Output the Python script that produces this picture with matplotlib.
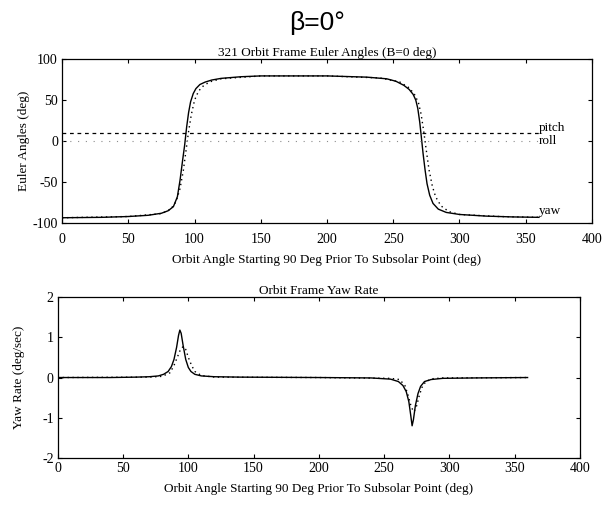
import matplotlib.pyplot as plt
import numpy as np

# orbit angle samples (deg) and values
yaw_x = [0, 30, 50, 65, 75, 80, 84, 87, 89, 91, 92.5, 94, 95.5, 97, 99, 101, 104, 108, 113, 120,
         135, 150, 200, 230, 245, 252, 258, 262, 265, 267, 268.5, 270, 271, 272.5, 274, 275.5,
         277.5, 280, 284, 290, 300, 320, 340, 360]
yaw_y = [-93.5, -93, -92, -90.5, -88, -85, -80, -68, -48, -23, -5, 17, 35, 48, 58, 64, 69, 72, 74.5, 76.5,
         78.5, 79.5, 79.5, 78, 76, 73, 68, 63, 57, 50, 40, 23, 8, -15, -35, -52,
         -66, -76, -83, -87, -89.5, -91.5, -92.5, -93]

yaw2_x = [0, 50, 75, 82, 86, 89, 91.5, 93.5, 95.5, 97.5, 100, 103, 107, 112, 120, 150, 200, 240,
          255, 262, 266, 269, 271, 273, 275, 277, 279.5, 282, 286, 292, 300, 330, 360]
yaw2_y = [-93.5, -92, -88.5, -83, -74, -58, -36, -12, 12, 32, 50, 61, 68, 72.5, 76, 79.5, 79.5, 77,
          72, 65, 57, 47, 33, 12, -12, -35, -55, -68, -79, -86, -89.5, -92, -93]

pitch_x = [0, 360]
pitch_y = [10, 10]
roll_x = [0, 360]
roll_y = [0.5, 0.5]

rate_x = [0, 40, 60, 70, 77, 81, 84.5, 87, 89, 91, 92.5, 93.5, 94.5, 96, 98, 100, 102, 105, 110, 120,
          140, 200, 240, 255, 261, 264.5, 267, 269, 270.5, 271.5, 272.5, 274, 276, 278, 281, 286,
          295, 320, 360]
rate_y = [0, 0, 0.01, 0.02, 0.04, 0.08, 0.15, 0.27, 0.45, 0.75, 1.05, 1.18, 1.1, 0.8, 0.45, 0.25, 0.15,
          0.08, 0.04, 0.02, 0.01, 0, -0.01, -0.04, -0.1, -0.2, -0.35, -0.6, -0.95, -1.2, -1.05, -0.7,
          -0.4, -0.22, -0.1, -0.05, -0.02, -0.01, 0]

rate2_x = [0, 70, 80, 86, 89, 91.5, 94, 96, 98, 100, 102.5, 105, 110, 120, 200, 255, 262, 266,
           268.5, 271, 273, 275, 277, 279, 282, 287, 295, 360]
rate2_y = [0, 0.01, 0.03, 0.12, 0.3, 0.5, 0.7, 0.77, 0.7, 0.5, 0.3, 0.15, 0.05, 0.01, 0, -0.02, -0.05,
           -0.2, -0.45, -0.75, -0.85, -0.7, -0.45, -0.25, -0.1, -0.03, -0.01, 0]

ticks_x = [0, 50, 100, 150, 200, 250, 300, 350, 400]
xlabel = "Orbit Angle Starting 90 Deg Prior To Subsolar Point (deg)"

plt.rcParams['font.family'] = ['Liberation Serif', 'DejaVu Serif']
plt.rcParams['font.size'] = 9.5
plt.rcParams['axes.unicode_minus'] = False

fig = plt.figure(figsize=(6.09, 5.14), dpi=100)
fig.text(0.52, 0.955, "β=0°", ha='center', va='center', fontsize=19,
         family=['Liberation Sans', 'DejaVu Sans'])

ax1 = fig.add_axes([0.102, 0.566, 0.870, 0.319])
ax1.plot(yaw_x, yaw_y, color='k', lw=1.0)
ax1.plot(yaw2_x, yaw2_y, color='k', lw=1.0, linestyle=(0, (1, 2.5)))
ax1.plot(pitch_x, pitch_y, color='k', lw=0.9, linestyle=(0, (3, 3)))
ax1.plot(roll_x, roll_y, color='0.55', lw=0.8, linestyle=(0, (1, 6)))
ax1.text(360, 9, "pitch", va='bottom', ha='left', fontsize=9.5)
ax1.text(360, 8, "roll", va='top', ha='left', fontsize=9.5)
ax1.text(360, -93, "yaw", va='bottom', ha='left', fontsize=9.5)
ax1.set_xlim(0, 400)
ax1.set_ylim(-100, 100)
ax1.set_xticks(ticks_x)
ax1.set_yticks([-100, -50, 0, 50, 100])
ax1.set_title("321 Orbit Frame Euler Angles (B=0 deg)", fontsize=9.5, pad=2)
ax1.set_xlabel(xlabel, labelpad=6)
ax1.set_ylabel("Euler Angles (deg)", labelpad=2)

ax2 = fig.add_axes([0.095, 0.109, 0.857, 0.313])
ax2.plot(rate_x, rate_y, color='k', lw=1.0)
ax2.plot(rate2_x, rate2_y, color='k', lw=1.0, linestyle=(0, (1, 2.5)))
ax2.set_xlim(0, 400)
ax2.set_ylim(-2, 2)
ax2.set_xticks(ticks_x)
ax2.set_yticks([-2, -1, 0, 1, 2])
ax2.set_title("Orbit Frame Yaw Rate", fontsize=9.5, pad=2)
ax2.set_xlabel(xlabel, labelpad=6)
ax2.set_ylabel("Yaw Rate (deg/sec)", labelpad=12)

for ax in (ax1, ax2):
    ax.tick_params(direction='in', top=True, right=True, length=3, width=0.8, labelsize=10, pad=3)
    for s in ax.spines.values():
        s.set_linewidth(0.9)
ax1.tick_params(axis='x', pad=7)

fig.savefig("out.png", dpi=100)
